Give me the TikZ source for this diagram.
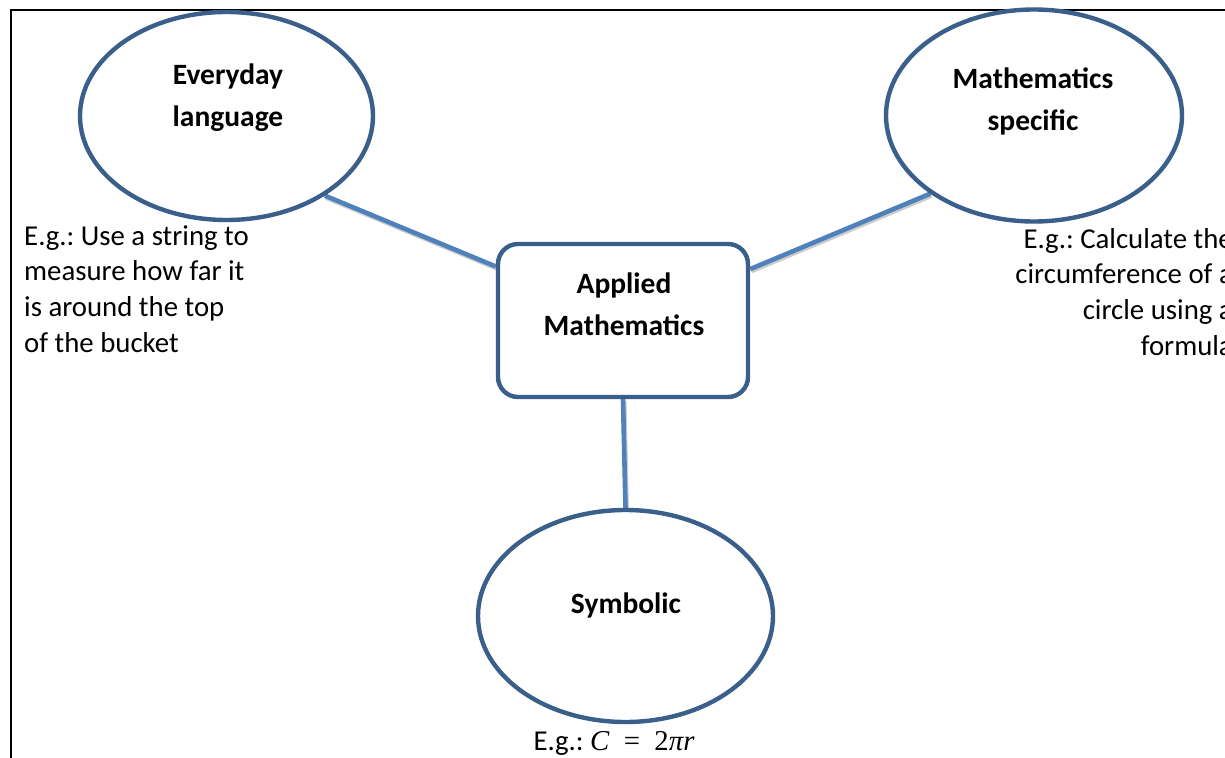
\documentclass[tikz,border=0pt]{standalone}
\usepackage{fontspec}
\setmainfont{Carlito}
\newfontfamily\formulafont{Liberation Serif}
\usetikzlibrary{shapes.geometric}
\definecolor{ringblue}{HTML}{3A5F8B}
\definecolor{linkblue}{HTML}{4F81BD}
\pgfdeclarelayer{under}
\pgfsetlayers{under,main}
\frenchspacing
\begin{document}
\begin{tikzpicture}[x=1pt,y=-1pt,
  bubble/.style={ellipse, draw=ringblue, line width=4.4pt, fill=white, inner sep=0pt},
  hub/.style={rectangle, rounded corners=20pt, draw=ringblue, line width=4.4pt, fill=white, inner sep=0pt},
  link/.style={draw=linkblue, line width=4.6pt,
    preaction={draw=black!20, line width=4.6pt, transform canvas={shift={(1.2pt,-2pt)}}}},
  heading/.style={font=\fontsize{29.5}{42}\selectfont\bfseries, align=center, inner sep=0pt},
  note/.style={font=\fontsize{28.8}{35.8}\selectfont, inner sep=0pt}]
  \useasboundingbox (0,0) rectangle (1225,757);
  \clip (0,0) rectangle (1225,757);

  % shapes
  \node[bubble, minimum width=293pt, minimum height=208pt] (ev) at (226.5,116) {};
  \node[bubble, minimum width=296pt, minimum height=212pt] (ms) at (1034,115.5) {};
  \node[hub, minimum width=250pt, minimum height=153pt] (app) at (623,320.5) {};
  \node[bubble, minimum width=295pt, minimum height=212pt] (sym) at (625.5,616) {};

  \begin{pgfonlayer}{under}
    \fill[white] (0,0) rectangle (1225,757);
    % page frame
    \draw[line width=2pt] (11,800) -- (11,10) -- (1300,10);
    % connectors
    \draw[link] (ev.-39.4) -- (app.157.6);
    \draw[link] (app.22) -- (ms.217.3);
    \draw[link] (app.south) -- (sym.north);
  \end{pgfonlayer}

  % headings (anchored at the baseline of their last line)
  \node[heading, anchor=base] (evt) at (228,126) {Everyday\\language};
  \node[heading, anchor=base] (mst) at (1033,131) {Mathematics\\specific};
  \node[heading, anchor=base] (appt) at (624,335) {Applied\\Mathematics};
  \node[heading, anchor=base] (symt) at (626,613) {Symbolic};

  % examples
  \node[note, align=left, anchor=base west] (evn) at (24,352.4)
    {E.g.: Use a string to\\measure how far it\\is around the top\\of the bucket};
  \node[note, align=right, anchor=base east] (msn) at (1233,355.4)
    {E.g.: Calculate the\\circumference of a\\circle using a\\formula};
  \node[note, anchor=base] (symn) at (614,750)
    {E.g.: {\formulafont\itshape C}\enspace{\formulafont =}\enspace{\formulafont 2\itshape πr}};
\end{tikzpicture}
\end{document}
